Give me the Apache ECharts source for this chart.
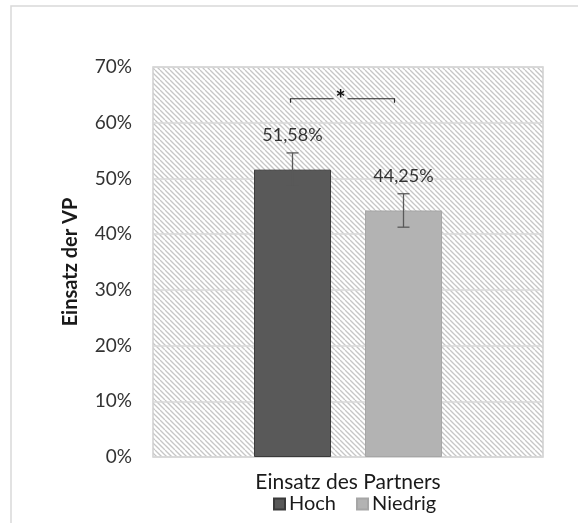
<!DOCTYPE html>
<html><head><meta charset="utf-8">
<script src="https://cdn.jsdelivr.net/npm/echarts@6/dist/echarts.min.js"></script>
<style>html,body{margin:0;padding:0;background:#fff}#c{width:578px;height:523px}</style>
</head><body><div id="c"></div>
<script>
var categories = ['Einsatz des Partners'];
var seriesNames = ['Hoch', 'Niedrig'];
var hochValues = [51.58];
var niedrigValues = [44.25];
var hochError = [3.0];
var niedrigError = [3.0];
var yTicks = [0, 10, 20, 30, 40, 50, 60, 70];
var significance = {level: 64.3, label: '*'};

var FONT = 'Lato, "Open Sans", sans-serif';
var FS = 18;
var BAR_W = 77, BAR_GAP = 34;

// hatch pattern
var tile = document.createElement('canvas');
tile.width = 10; tile.height = 10;
var tc = tile.getContext('2d');
tc.fillStyle = '#ffffff'; tc.fillRect(0, 0, 10, 10);
tc.strokeStyle = '#c6c6c6'; tc.lineWidth = 1.3;
for (var c = -10; c <= 10; c += 5) {
  tc.beginPath(); tc.moveTo(c, 0); tc.lineTo(c + 10, 10); tc.stroke();
}

function fmt(v) { return v.toFixed(2).replace('.', ',') + '%'; }

function errorSeries(values, errs, offset) {
  return {
    type: 'custom', silent: true, z: 5,
    data: values.map(function (v, i) { return [i, v, errs[i]]; }),
    renderItem: function (params, api) {
      var v = api.value(1), e = api.value(2);
      var top = api.coord([api.value(0), v + e]);
      var bot = api.coord([api.value(0), v - e]);
      var x = top[0] + offset;
      var hw = 6;
      var st = {stroke: '#595959', lineWidth: 1.3, fill: null};
      return {type: 'group', children: [
        {type: 'line', shape: {x1: x, y1: top[1], x2: x, y2: bot[1]}, style: st},
        {type: 'line', shape: {x1: x - hw, y1: top[1], x2: x + hw, y2: top[1]}, style: st},
        {type: 'line', shape: {x1: x - hw, y1: bot[1], x2: x + hw, y2: bot[1]}, style: st}
      ]};
    }
  };
}

var half = (BAR_W + BAR_GAP) / 2;

var option = {
  animation: false,
  backgroundColor: '#ffffff',
  graphic: [{
    type: 'rect', shape: {x: 11, y: 6, width: 600, height: 600},
    style: {fill: 'none', stroke: '#d9d9d9', lineWidth: 1.5}, silent: true, z: -10
  }],
  grid: {
    left: 153, right: 35, top: 67, bottom: 66,
    show: true, backgroundColor: {image: tile, repeat: 'repeat'},
    borderColor: '#d0d0d0', borderWidth: 1.5
  },
  legend: {
    data: seriesNames, bottom: 4, left: 268,
    itemWidth: 11, itemHeight: 11, itemGap: 20,
    icon: 'rect',
    textStyle: {fontFamily: FONT, fontSize: 20, color: '#1a1a1a', padding: [0, 0, 0, -1]}
  },
  xAxis: {
    type: 'category', data: categories,
    axisLine: {show: false}, axisTick: {show: false},
    axisLabel: {fontFamily: FONT, fontSize: 21, color: '#1a1a1a', margin: 15}
  },
  yAxis: {
    type: 'value', min: 0, max: 70, interval: 10,
    name: 'Einsatz der VP', nameLocation: 'middle', nameGap: 72,
    nameTextStyle: {fontFamily: FONT, fontSize: 20, fontWeight: 'bold', color: '#1a1a1a'},
    axisLabel: {fontFamily: FONT, fontSize: 19, color: '#333333', margin: 21,
      formatter: function (v) { return yTicks.indexOf(v) >= 0 ? v + '%' : ''; }},
    splitLine: {lineStyle: {color: '#d9d9d9', width: 1.5}},
    axisLine: {show: false}, axisTick: {show: false}
  },
  series: [
    {
      name: seriesNames[0], type: 'bar', data: hochValues, barWidth: BAR_W, barGap: (BAR_GAP / BAR_W * 100) + '%',
      itemStyle: {color: '#595959', borderColor: '#3a3a3a', borderWidth: 1},
      label: {show: true, position: 'top', distance: 25, fontFamily: FONT, fontSize: FS, color: '#333333',
        formatter: function (p) { return fmt(p.value); }}
    },
    {
      name: seriesNames[1], type: 'bar', data: niedrigValues, barWidth: BAR_W,
      itemStyle: {color: '#b3b3b3', borderColor: '#a6a6a6', borderWidth: 1},
      label: {show: true, position: 'top', distance: 25, fontFamily: FONT, fontSize: FS, color: '#333333',
        formatter: function (p) { return fmt(p.value); }}
    },
    errorSeries(hochValues, hochError, -half),
    errorSeries(niedrigValues, niedrigError, half),
    {
      type: 'custom', silent: true, z: 6,
      data: [[0, significance.level]],
      renderItem: function (params, api) {
        var p = api.coord([api.value(0), api.value(1)]);
        var x1 = p[0] - half - 2, x2 = p[0] + half - 9, y = p[1];
        var st = {stroke: '#262626', lineWidth: 1.2, fill: null};
        var mid = (x1 + x2) / 2 - 2;
        return {type: 'group', children: [
          {type: 'polyline', shape: {points: [[x1, y + 4], [x1, y], [mid - 7, y]]}, style: st},
          {type: 'polyline', shape: {points: [[mid + 7, y], [x2, y], [x2, y + 4]]}, style: st},
          {type: 'text', x: mid, y: y + 2, style: {text: significance.label, fontFamily: FONT, fontSize: 24,
            fontWeight: 'bold', fill: '#111111', align: 'center', verticalAlign: 'middle'}}
        ]};
      }
    }
  ]
};
echarts.init(document.getElementById('c')).setOption(option);
</script></body></html>
